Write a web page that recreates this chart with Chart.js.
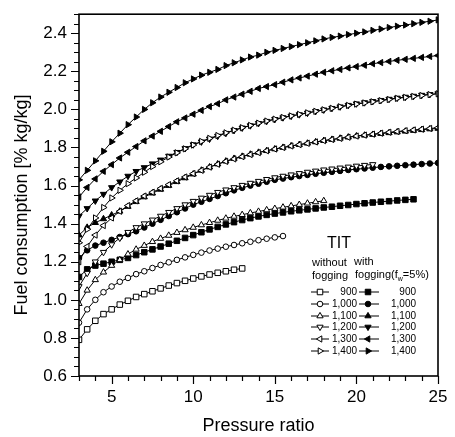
<!DOCTYPE html>
<html lang="en">
<head>
<meta charset="UTF-8">
<title>Fuel consumption</title>
<style>
  body { margin: 0; background: #fff; }
</style>
</head>
<body>
<canvas id="grafico" width="455" height="437"></canvas>
<script src="https://cdn.jsdelivr.net/npm/chart.js"></script>
<script>
  // pressure ratio (x), one point every 0.5
  var razao = [3, 3.5, 4, 4.5, 5, 5.5, 6, 6.5, 7, 7.5, 8, 8.5, 9, 9.5, 10, 10.5, 11, 11.5, 12, 12.5,
    13, 13.5, 14, 14.5, 15, 15.5, 16, 16.5, 17, 17.5, 18, 18.5, 19, 19.5, 20, 20.5, 21, 21.5, 22, 22.5,
    23, 23.5, 24, 24.5, 25];

  var tit = ['900', '1,000', '1,100', '1,200', '1,300', '1,400'];

  var xTicks = [5, 10, 15, 20, 25];
  var yTicks = [0.6, 0.8, 1.0, 1.2, 1.4, 1.6, 1.8, 2.0, 2.2, 2.4];

  // without fogging
  var sem900 = [0.79, 0.845, 0.89, 0.925, 0.95, 0.975, 0.995, 1.015, 1.03, 1.045,
    1.06, 1.075, 1.088, 1.10, 1.112, 1.123, 1.133, 1.142, 1.15, 1.158,
    1.165];
  var sem1000 = [0.88, 0.95, 1.00, 1.04, 1.07, 1.095, 1.115, 1.135, 1.15, 1.167,
    1.183, 1.197, 1.21, 1.223, 1.236, 1.248, 1.259, 1.269, 1.279, 1.288,
    1.297, 1.305, 1.313, 1.321, 1.328, 1.335];
  var sem1100 = [0.98, 1.05, 1.105, 1.145, 1.18, 1.21, 1.24, 1.265, 1.285, 1.305,
    1.322, 1.338, 1.353, 1.367, 1.38, 1.393, 1.405, 1.417, 1.428, 1.438,
    1.447, 1.456, 1.464, 1.472, 1.479, 1.486, 1.493, 1.50, 1.507, 1.514,
    1.52];
  var sem1200 = [1.07, 1.14, 1.20, 1.25, 1.29, 1.325, 1.355, 1.38, 1.40, 1.42,
    1.44, 1.46, 1.48, 1.50, 1.518, 1.535, 1.55, 1.565, 1.578, 1.59,
    1.602, 1.613, 1.623, 1.633, 1.642, 1.65, 1.657, 1.664, 1.671, 1.677,
    1.683, 1.688, 1.693, 1.698, 1.703, 1.707, 1.711];
  var sem1300 = [1.20, 1.28, 1.34, 1.39, 1.43, 1.465, 1.495, 1.52, 1.545, 1.565,
    1.585, 1.605, 1.625, 1.645, 1.663, 1.68, 1.697, 1.712, 1.727, 1.74,
    1.752, 1.763, 1.773, 1.783, 1.792, 1.80, 1.808, 1.815, 1.822, 1.829,
    1.836, 1.842, 1.848, 1.854, 1.86, 1.865, 1.87, 1.875, 1.88, 1.884,
    1.888, 1.892, 1.896, 1.90, 1.904];
  var sem1400 = [1.30, 1.37, 1.43, 1.485, 1.535, 1.575, 1.61, 1.64, 1.67, 1.70,
    1.725, 1.75, 1.772, 1.793, 1.813, 1.832, 1.848, 1.863, 1.877, 1.891,
    1.904, 1.916, 1.928, 1.939, 1.949, 1.958, 1.966, 1.974, 1.982, 1.99,
    1.998, 2.006, 2.014, 2.021, 2.028, 2.034, 2.04, 2.046, 2.052, 2.058,
    2.063, 2.068, 2.073, 2.078, 2.082];

  // with fogging (fw = 5%)
  var com900 = [1.12, 1.16, 1.18, 1.19, 1.20, 1.21, 1.22, 1.235, 1.25, 1.265,
    1.28, 1.295, 1.31, 1.325, 1.34, 1.355, 1.37, 1.383, 1.396, 1.408,
    1.419, 1.429, 1.438, 1.446, 1.453, 1.459, 1.465, 1.47, 1.475, 1.48,
    1.485, 1.489, 1.494, 1.498, 1.503, 1.507, 1.511, 1.515, 1.518, 1.522,
    1.525, 1.528];
  var com1000 = [1.22, 1.26, 1.285, 1.30, 1.315, 1.33, 1.345, 1.36, 1.38, 1.40,
    1.42, 1.44, 1.46, 1.48, 1.50, 1.515, 1.53, 1.545, 1.56, 1.575,
    1.588, 1.60, 1.61, 1.62, 1.63, 1.637, 1.644, 1.65, 1.656, 1.662,
    1.667, 1.672, 1.677, 1.682, 1.686, 1.69, 1.694, 1.698, 1.701, 1.704,
    1.707, 1.71, 1.713, 1.716, 1.719];
  var com1100 = [1.34, 1.38, 1.405, 1.425, 1.445, 1.465, 1.49, 1.515, 1.54, 1.56,
    1.58, 1.60, 1.62, 1.64, 1.66, 1.68, 1.697, 1.713, 1.728, 1.742,
    1.753, 1.764, 1.774, 1.783, 1.792, 1.80, 1.808, 1.815, 1.822, 1.829,
    1.836, 1.842, 1.848, 1.854, 1.86, 1.864, 1.868, 1.873, 1.877, 1.881,
    1.885, 1.889, 1.893, 1.897, 1.90];
  var com1200 = [1.44, 1.48, 1.52, 1.555, 1.59, 1.62, 1.65, 1.675, 1.695, 1.715,
    1.735, 1.755, 1.775, 1.795, 1.815, 1.83, 1.845, 1.86, 1.875, 1.89,
    1.903, 1.915, 1.927, 1.938, 1.948, 1.957, 1.965, 1.973, 1.981, 1.99,
    1.998, 2.006, 2.014, 2.022, 2.03, 2.036, 2.042, 2.048, 2.054, 2.06,
    2.065, 2.07, 2.075, 2.079, 2.083];
  var com1300 = [1.54, 1.59, 1.635, 1.675, 1.71, 1.745, 1.775, 1.805, 1.835, 1.86,
    1.885, 1.91, 1.935, 1.955, 1.975, 1.995, 2.015, 2.03, 2.05, 2.065,
    2.08, 2.095, 2.11, 2.12, 2.13, 2.143, 2.155, 2.165, 2.175, 2.185,
    2.195, 2.203, 2.21, 2.218, 2.225, 2.232, 2.24, 2.246, 2.252, 2.258,
    2.263, 2.268, 2.273, 2.278, 2.283];
  var com1400 = [1.63, 1.68, 1.73, 1.78, 1.83, 1.875, 1.92, 1.96, 2.00, 2.035,
    2.065, 2.09, 2.115, 2.14, 2.16, 2.18, 2.195, 2.21, 2.23, 2.245,
    2.26, 2.275, 2.285, 2.30, 2.31, 2.32, 2.33, 2.34, 2.35, 2.36,
    2.37, 2.378, 2.385, 2.393, 2.40, 2.407, 2.415, 2.422, 2.43, 2.437,
    2.443, 2.45, 2.457, 2.463, 2.47];

  var fonte = "'Liberation Sans', Arial, sans-serif";

  // marker for each TIT: style, rotation, radius
  var marcadores = [
    { estilo: 'rect', rot: 0, raio: 3.9 },
    { estilo: 'circle', rot: 0, raio: 2.8 },
    { estilo: 'triangle', rot: 0, raio: 3.6 },
    { estilo: 'triangle', rot: 180, raio: 3.6 },
    { estilo: 'triangle', rot: -90, raio: 3.6 },
    { estilo: 'triangle', rot: 90, raio: 3.6 }
  ];

  function serie(nome, valores, m, cheio) {
    var pontos = [];
    for (var i = 0; i < valores.length; i++) {
      pontos.push({ x: razao[i], y: valores[i] });
    }
    return {
      label: nome,
      data: pontos,
      showLine: true,
      borderColor: '#000',
      borderWidth: 1,
      pointStyle: m.estilo,
      pointRotation: m.rot,
      pointRadius: m.raio,
      pointBorderWidth: 1,
      pointBorderColor: '#000',
      pointBackgroundColor: cheio ? '#000' : '#fff'
    };
  }

  var semFog = [sem900, sem1000, sem1100, sem1200, sem1300, sem1400];
  var comFog = [com900, com1000, com1100, com1200, com1300, com1400];

  var datasets = [];
  for (var k = 0; k < 6; k++) {
    datasets.push(serie('without ' + tit[k], semFog[k], marcadores[k], false));
  }
  for (var k = 0; k < 6; k++) {
    datasets.push(serie('with ' + tit[k], comFog[k], marcadores[k], true));
  }

  // minor tick positions
  var xMenores = [];
  for (var v = 3; v <= 25; v++) xMenores.push(v);
  var yMenores = [];
  for (var j = 0; j <= 38; j++) yMenores.push(Math.round((0.6 + j * 0.05) * 100) / 100);

  function desenhaMarcador(ctx, m, cheio, x, y) {
    ctx.fillStyle = cheio ? '#000' : '#fff';
    ctx.strokeStyle = '#000';
    ctx.lineWidth = 1;
    Chart.helpers.drawPoint(ctx, { pointStyle: m.estilo, rotation: m.rot, radius: m.raio, borderWidth: 1 }, x, y);
  }

  // frame, tick marks, y title and the legend box
  var extras = {
    id: 'extras',
    afterDraw: function (chart) {
      var ctx = chart.ctx;
      var a = chart.chartArea;
      var sx = chart.scales.x;
      var sy = chart.scales.y;
      ctx.save();
      ctx.strokeStyle = '#000';

      ctx.lineWidth = 1.2;
      ctx.beginPath();
      xMenores.forEach(function (v) {
        var px = Math.round(sx.getPixelForValue(v)) + 0.5;
        var len = xTicks.indexOf(v) >= 0 ? 8 : 5;
        ctx.moveTo(px, a.bottom);
        ctx.lineTo(px, a.bottom + len);
      });
      yMenores.forEach(function (v) {
        var py = Math.round(sy.getPixelForValue(v)) + 0.5;
        var maior = yTicks.some(function (t) { return Math.abs(t - v) < 1e-6; });
        ctx.moveTo(a.left, py);
        ctx.lineTo(a.left - (maior ? 8 : 5), py);
      });
      ctx.stroke();

      ctx.lineWidth = 1.6;
      ctx.strokeRect(a.left, a.top, a.right - a.left, a.bottom - a.top);

      // y axis title
      ctx.fillStyle = '#000';
      ctx.font = '18px ' + fonte;
      ctx.textAlign = 'center';
      ctx.textBaseline = 'middle';
      ctx.save();
      ctx.translate(22, 205);
      ctx.rotate(-Math.PI / 2);
      ctx.fillText('Fuel consumption [% kg/kg]', 0, 0);
      ctx.restore();

      // legend
      ctx.font = '16px ' + fonte;
      ctx.fillText('TIT', 339, 244);
      ctx.font = '11px ' + fonte;
      ctx.textAlign = 'left';
      ctx.fillText('without', 312, 263);
      ctx.fillText('fogging', 312, 276);
      ctx.fillText('with', 354, 262);
      var t1 = 'fogging(f';
      ctx.fillText(t1, 355, 275);
      var w1 = ctx.measureText(t1).width;
      ctx.font = '7px ' + fonte;
      ctx.fillText('w', 355 + w1, 279);
      var w2 = ctx.measureText('w').width;
      ctx.font = '11px ' + fonte;
      ctx.fillText('=5%)', 355 + w1 + w2, 275);

      var linhas = [292, 304, 316, 327, 339, 351];
      for (var i = 0; i < 6; i++) {
        var y = linhas[i];
        ctx.strokeStyle = '#000';
        ctx.lineWidth = 1;
        ctx.beginPath();
        ctx.moveTo(311, y); ctx.lineTo(329, y);
        ctx.moveTo(359, y); ctx.lineTo(379, y);
        ctx.stroke();
        desenhaMarcador(ctx, marcadores[i], false, 320, y);
        desenhaMarcador(ctx, marcadores[i], true, 368, y);
        ctx.fillStyle = '#000';
        ctx.font = '10px ' + fonte;
        ctx.textAlign = 'right';
        ctx.fillText(tit[i], 357, y + 0.5);
        ctx.fillText(tit[i], 416, y + 0.5);
      }
      ctx.restore();
    }
  };

  var config = {
    type: 'scatter',
    data: { datasets: datasets },
    options: {
      responsive: false,
      animation: false,
      layout: { padding: { top: 10, right: 17, left: 0, bottom: 0 } },
      plugins: { legend: { display: false }, tooltip: { enabled: false } },
      scales: {
        x: {
          type: 'linear',
          min: 3,
          max: 25,
          afterFit: function (s) { s.height = 61; },
          afterBuildTicks: function (s) { s.ticks = xTicks.map(function (v) { return { value: v }; }); },
          grid: { display: false, drawTicks: true, tickLength: 8 },
          border: { display: false },
          ticks: { color: '#000', font: { family: fonte, size: 17 }, padding: 3, maxRotation: 0 },
          title: { display: true, text: 'Pressure ratio', color: '#000', font: { family: fonte, size: 18 }, padding: { top: 0, bottom: 0 } }
        },
        y: {
          type: 'linear',
          min: 0.6,
          max: 2.5,
          afterFit: function (s) { s.width = 79; },
          afterBuildTicks: function (s) { s.ticks = yTicks.map(function (v) { return { value: v }; }); },
          grid: { display: false, drawTicks: true, tickLength: 8 },
          border: { display: false },
          ticks: {
            color: '#000', font: { family: fonte, size: 17 }, padding: 4,
            callback: function (v) { return Number(v).toFixed(1); }
          }
        }
      }
    },
    plugins: [extras]
  };

  var grafico = new Chart(document.getElementById('grafico'), config);
</script>
</body>
</html>
